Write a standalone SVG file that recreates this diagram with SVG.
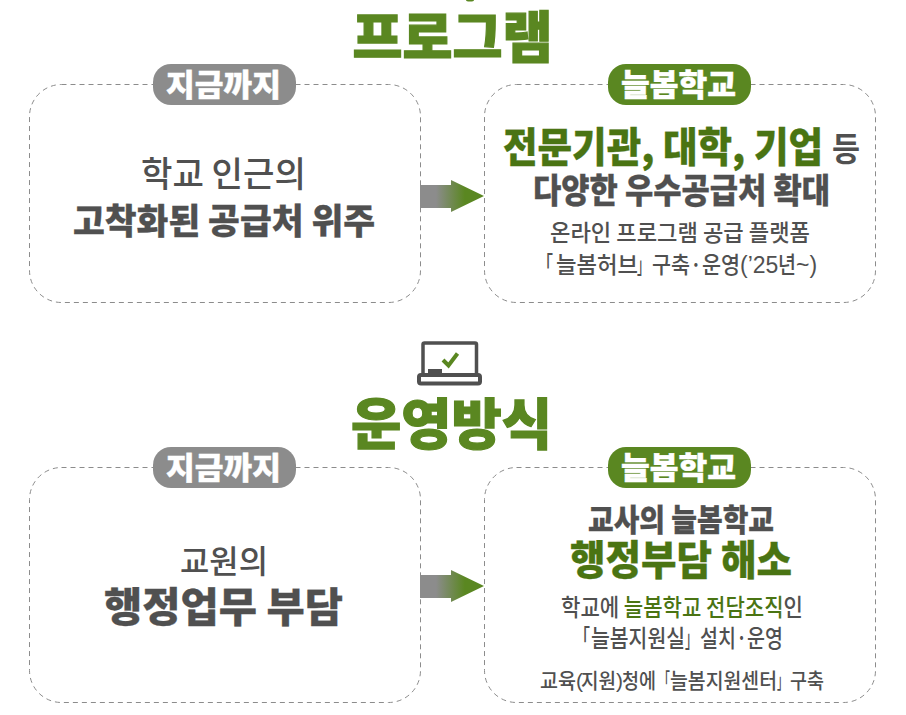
<svg xmlns="http://www.w3.org/2000/svg" width="906" height="715" viewBox="0 0 906 715">
<style>
text{font-family:"Noto Sans CJK KR","Noto Sans",sans-serif;text-anchor:middle;fill:#505050;font-weight:500}
.s{text-anchor:start}
.lat{font-family:"Liberation Sans",sans-serif}
.b{font-weight:700}
.bb{font-weight:900;stroke:#505050;stroke-width:.3}
.g{fill:#4a7413}
.bb.g{stroke:#4a7413}
.title{fill:#5a8721;font-weight:900;font-size:55px;stroke:#5a8721;stroke-width:1.2}
.pilltxt{fill:#fff;font-weight:900;font-size:31px;stroke:#fff;stroke-width:.4}
.box{fill:#fff;stroke:#8c8c8c;stroke-width:1;stroke-dasharray:5 4}
</style>
<defs>
<linearGradient id="arrowGrad" x1="420" x2="484" y1="0" y2="0" gradientUnits="userSpaceOnUse">
<stop offset="0" stop-color="#8c8c8c"/><stop offset="0.25" stop-color="#8c8c8c"/><stop offset="0.7" stop-color="#5a8721"/><stop offset="1" stop-color="#5a8721"/>
</linearGradient>
</defs>
<rect width="906" height="715" fill="#fff"/>
<ellipse cx="470" cy="0" rx="4" ry="1.500" fill="#5a8721"/>
<g id="title-program"><text class="title" x="452.500" y="57" textLength="200" lengthAdjust="spacingAndGlyphs">프로그램</text></g>
<g id="node-now-1">
<rect class="box" x="29.500" y="84.500" width="391" height="218" rx="32"/>
<rect x="153" y="64" width="143" height="41" rx="18" fill="#8c8c8c"/>
<text class="pilltxt" x="223.500" y="96" textLength="115" lengthAdjust="spacingAndGlyphs">지금까지</text>
<text x="223.500" y="187" font-size="35" textLength="165" lengthAdjust="spacingAndGlyphs">학교 인근의</text>
<text class="bb" x="224" y="234" font-size="35" textLength="302" lengthAdjust="spacingAndGlyphs">고착화된 공급처 위주</text>
</g>
<g id="node-neulbom-1">
<rect class="box" x="484.500" y="84.500" width="391" height="218" rx="32"/>
<rect x="608" y="64" width="143" height="41" rx="18" fill="#5a8721"/>
<text class="pilltxt" x="678.500" y="96" textLength="115" lengthAdjust="spacingAndGlyphs">늘봄학교</text>
<text class="bb g" x="663" y="162" font-size="41" textLength="320" lengthAdjust="spacingAndGlyphs">전문기관, 대학, 기업</text>
<text class="b" x="846" y="161" font-size="33" textLength="28" lengthAdjust="spacingAndGlyphs">등</text>
<text class="bb" x="681.500" y="203" font-size="34" textLength="297" lengthAdjust="spacingAndGlyphs">다양한 우수공급처 확대</text>
<text x="680" y="241" font-size="23" textLength="260" lengthAdjust="spacingAndGlyphs">온라인 프로그램 공급 플랫폼</text>
<text class="s" y="272.500" font-size="23"><tspan x="537" textLength="16" lengthAdjust="spacingAndGlyphs">「</tspan><tspan x="556" textLength="82" lengthAdjust="spacingAndGlyphs">늘봄허브</tspan><tspan x="637" textLength="15" lengthAdjust="spacingAndGlyphs">」 </tspan><tspan x="652" textLength="88" lengthAdjust="spacingAndGlyphs">구축·운영</tspan><tspan class="lat" x="740">(’25</tspan><tspan x="778" textLength="18" lengthAdjust="spacingAndGlyphs">년</tspan><tspan class="lat" x="796">~)</tspan></text>
</g>
<g id="icon-laptop">
<rect x="423" y="343" width="53.500" height="33" rx="1.500" fill="#fff" stroke="#505050" stroke-width="3.500"/>
<rect x="428" y="369" width="14" height="6" fill="#505050"/>
<rect x="419" y="375" width="61" height="8.500" rx="2" fill="#fff" stroke="#505050" stroke-width="4"/>
<path d="M443 360l5.500 5.500 9-12" fill="none" stroke="#5a8721" stroke-width="4"/>
</g>
<g id="title-operation"><text class="title" x="451.500" y="444" textLength="201" lengthAdjust="spacingAndGlyphs">운영방식</text></g>
<g id="node-now-2">
<rect class="box" x="29.500" y="467.500" width="391" height="235" rx="32"/>
<rect x="153" y="447" width="143" height="41" rx="18" fill="#8c8c8c"/>
<text class="pilltxt" x="223.500" y="479" textLength="115" lengthAdjust="spacingAndGlyphs">지금까지</text>
<text x="224" y="573" font-size="32" textLength="88" lengthAdjust="spacingAndGlyphs">교원의</text>
<text class="bb" x="223.500" y="622" font-size="41" textLength="239" lengthAdjust="spacingAndGlyphs">행정업무 부담</text>
</g>
<g id="node-neulbom-2">
<rect class="box" x="484.500" y="467.500" width="391" height="235" rx="32"/>
<rect x="608" y="447" width="143" height="41" rx="18" fill="#5a8721"/>
<text class="pilltxt" x="678.500" y="479" textLength="115" lengthAdjust="spacingAndGlyphs">늘봄학교</text>
<text class="bb" x="681" y="531" font-size="31" textLength="186" lengthAdjust="spacingAndGlyphs">교사의 늘봄학교</text>
<text class="bb g" x="681" y="575" font-size="41" textLength="222" lengthAdjust="spacingAndGlyphs">행정부담 해소</text>
<text x="682" y="616" font-size="24" textLength="242" lengthAdjust="spacingAndGlyphs">학교에 <tspan class="g">늘봄학교 전담조직</tspan>인</text>
<text class="s" y="647" font-size="24"><tspan x="574" textLength="16" lengthAdjust="spacingAndGlyphs">「</tspan><tspan x="591" textLength="94" lengthAdjust="spacingAndGlyphs">늘봄지원실</tspan><tspan x="685" textLength="15" lengthAdjust="spacingAndGlyphs">」 </tspan><tspan x="700" textLength="83" lengthAdjust="spacingAndGlyphs">설치·운영</tspan></text>
<text class="s" y="688" font-size="21"><tspan x="540" textLength="36" lengthAdjust="spacingAndGlyphs">교육</tspan><tspan class="lat" x="576">(</tspan><tspan x="581" textLength="35" lengthAdjust="spacingAndGlyphs">지원</tspan><tspan class="lat" x="616">)</tspan><tspan x="622" textLength="34" lengthAdjust="spacingAndGlyphs">청에</tspan><tspan x="656" textLength="14" lengthAdjust="spacingAndGlyphs"> 「</tspan><tspan x="670" textLength="107" lengthAdjust="spacingAndGlyphs">늘봄지원센터</tspan><tspan x="777" textLength="13" lengthAdjust="spacingAndGlyphs">」 </tspan><tspan x="790" textLength="34" lengthAdjust="spacingAndGlyphs">구축</tspan></text>
</g>
<g id="connectors">
<path d="M420 185H451V180L484 196L451 212V208H420Z" fill="url(#arrowGrad)"/>
<path d="M420 575H451V570L484 586L451 602V598H420Z" fill="url(#arrowGrad)"/>
</g>
</svg>
